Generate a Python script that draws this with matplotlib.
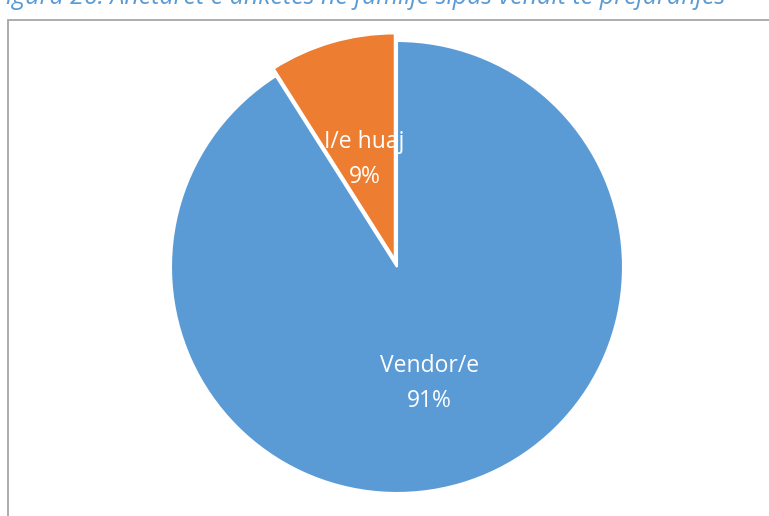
import matplotlib
matplotlib.use("Agg")
import matplotlib.pyplot as plt
from matplotlib.patches import Rectangle
import numpy as np

categories = ["I/e huaj", "Vendor/e"]
values = [9, 91]
colors = ["#ED7D31", "#5B9BD5"]
title = "Figura 26: Anëtarët e anketës në familje sipas vendit të prejardhjes"

W, H = 769, 516
fig = plt.figure(figsize=(W / 100, H / 100), dpi=100)
plt.rcParams['font.family'] = ['Open Sans', 'DejaVu Sans']

# frame of chart area
fig.add_artist(Rectangle((8 / W, -0.1), 1.2, 1 - 20 / H + 0.1, transform=fig.transFigure,
                         fill=False, edgecolor="#A6A6A6", linewidth=1.3))

# title (partially cut off at the top, as in the reference)
fig.text(-6 / W, 1 - 4 / H, title, color="#5B9BD5", fontsize=18, style="italic",
         va="baseline", ha="left")

cx, cy, r = 397, 267, 226
ax = fig.add_axes([(cx - r) / W, (H - cy - r) / H, 2 * r / W, 2 * r / H])
wedges, _ = ax.pie(values, colors=colors, startangle=90, counterclock=True,
                   explode=[0.035, 0], radius=1.0,
                   wedgeprops=dict(edgecolor="white", linewidth=1.5))
ax.set_xlim(-1, 1)
ax.set_ylim(-1, 1)
ax.set_aspect("equal")
ax.axis("off")

total = sum(values)
for w, cat, v in zip(wedges, categories, values):
    ang = np.deg2rad((w.theta1 + w.theta2) / 2)
    d = 0.515
    x = d * np.cos(ang)
    y = d * np.sin(ang) - 0.02
    ax.text(x, y, f"{cat}\n{round(100 * v / total)}%", ha="center", va="center",
            color="white", fontsize=16.5, linespacing=1.6)

fig.savefig("out.png", dpi=100)
